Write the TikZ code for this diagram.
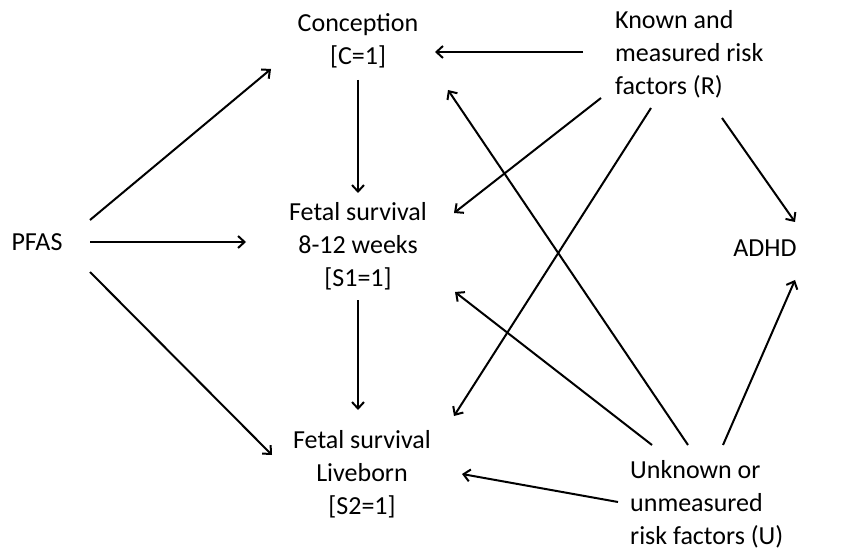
\documentclass[tikz,border=0pt]{standalone}
\usepackage{fontspec}
\setmainfont{Carlito}
\usetikzlibrary{arrows.meta,calc}
\begin{document}
\begin{tikzpicture}[x=1pt,y=-1pt,
  lbl/.style={inner sep=0pt,font=\fontsize{26}{33}\selectfont,align=center},
  lbll/.style={lbl,align=left,anchor=west},
  arr/.style={line width=2pt,-{Straight Barb[length=6.5pt,width=12pt]}}]
\useasboundingbox (0,0) rectangle (841,556);
\node[lbl] (C) at (358,41) {Conception\\{[C=1]}};
\node[lbll] (R) at (615,54) {Known and\\measured risk\\factors (R)};
\node[lbl] (P) at (37,242) {PFAS};
\node[lbl] (S1) at (358,246) {Fetal survival\\8-12 weeks\\{[S1=1]}};
\node[lbl] (A) at (765,248) {ADHD};
\node[lbl] (S2) at (362,474) {Fetal survival\\Liveborn\\{[S2=1]}};
\node[lbll] (U) at (630,504) {Unknown or\\unmeasured\\risk factors (U)};
% PFAS
\draw[arr] ($(P)+(53,-22)$) -- ($(C)+(-87,28)$);
\draw[arr] ($(P)+(53,0)$) -- ($(S1)+(-112,-4)$);
\draw[arr] ($(P)+(53,30)$) -- ($(S2)+(-90,-19)$);
% chain
\draw[arr] ($(C)+(0,39)$) -- ($(S1)+(0,-53)$);
\draw[arr] ($(S1)+(0,54)$) -- ($(S2)+(-4,-64)$);
% R
\draw[arr] ($(R.west)+(-32,-2)$) -- ($(C)+(77,11)$);
\draw[arr] ($(R.west)+(-14,44)$) -- ($(S1)+(96,-33)$);
\draw[arr] ($(R.west)+(36,54)$) -- ($(S2)+(92,-58)$);
\draw[arr] ($(R.west)+(107,64)$) -- ($(A)+(30,-26)$);
% U
\draw[arr] ($(U.west)+(58,-59)$) -- ($(C)+(90,49)$);
\draw[arr] ($(U.west)+(22,-59)$) -- ($(S1)+(97,46)$);
\draw[arr] ($(U.west)+(-12,-2)$) -- ($(S2)+(100,0)$);
\draw[arr] ($(U.west)+(93,-59)$) -- ($(A)+(30,32)$);
\end{tikzpicture}
\end{document}
